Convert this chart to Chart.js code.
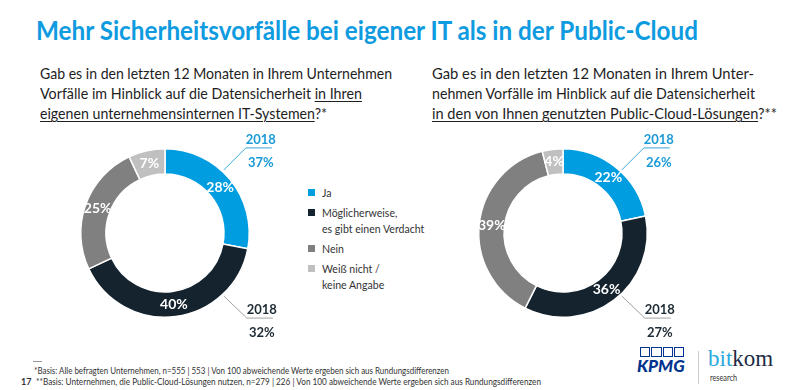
<!DOCTYPE html>
<html>
<head>
<meta charset="utf-8">
<script src="https://cdn.jsdelivr.net/npm/chart.js@4.4.0/dist/chart.umd.min.js"></script>
<style>
    body { margin: 0; width: 800px; height: 390px; background: #fff; font-family: Lato, 'Open Sans', sans-serif; color: #222; position: relative; overflow: hidden; }
    .abs { position: absolute; white-space: nowrap; }
    .fit { display: inline-block; transform-origin: left center; }
    #title { left: 36px; top: 17px; font-size: 26px; line-height: 26px; font-weight: bold; color: #0f9be0; }
    .sub { font-size: 15px; line-height: 20px; color: #1e1e1e; }
    .sub u { text-decoration-thickness: 1px; text-underline-offset: 2px; }
    .chartBox { position: absolute; width: 240px; height: 220px; top: 123px; }
    #legend { left: 308px; top: 185px; font-size: 12px; line-height: 16px; color: #333; }
    .item { position: relative; margin-bottom: 4px; padding-left: 14px; }
    .item .sw { position: absolute; left: 0; top: 4px; width: 7px; height: 7px; }
    .item .txt { display: inline-block; transform: scaleX(0.88); transform-origin: left center; }
    .foot { font-size: 9px; line-height: 11px; color: #333; }
</style>
</head>
<body>
    <div id="title" class="abs"><span class="fit" data-w="662">Mehr Sicherheitsvorfälle bei eigener IT als in der Public-Cloud</span></div>

    <div class="abs sub" style="left:40px; top:63px;">
        <span class="fit" data-w="352">Gab es in den letzten 12 Monaten in Ihrem Unternehmen</span><br>
        <span class="fit" data-w="322">Vorfälle im Hinblick auf die Datensicherheit <u>in Ihren</u></span><br>
        <span class="fit" data-w="287"><u>eigenen unternehmensinternen IT-Systemen</u>?*</span>
    </div>
    <div class="abs sub" style="left:432px; top:63px;">
        <span class="fit" data-w="322">Gab es in den letzten 12 Monaten in Ihrem Unter-</span><br>
        <span class="fit" data-w="323">nehmen Vorfälle im Hinblick auf die Datensicherheit</span><br>
        <span class="fit" data-w="345"><u>in den von Ihnen genutzten Public-Cloud-Lösungen</u>?**</span>
    </div>

    <div class="chartBox" style="left:45px;"><canvas id="chartIT"></canvas></div>
    <div class="chartBox" style="left:443px;"><canvas id="chartCloud"></canvas></div>

    <div id="legend" class="abs"></div>

    <div class="abs" style="left:33px; top:361px; width:9px; border-top:1px solid #999;"></div>
    <div class="abs foot" style="left:34px; top:365px;"><span class="fit" data-w="415">*Basis: Alle befragten Unternehmen, n=555 | 553 | Von 100 abweichende Werte ergeben sich aus Rundungsdifferenzen</span></div>
    <div class="abs foot" style="left:21px; top:376px; font-weight:bold;">17</div>
    <div class="abs foot" style="left:36px; top:376px;"><span class="fit" data-w="505">**Basis: Unternehmen, die Public-Cloud-Lösungen nutzen, n=279 | 226 | Von 100 abweichende Werte ergeben sich aus Rundungsdifferenzen</span></div>

    <!-- logos -->
    <div class="abs" style="left:640px; top:347px; width:44px; height:10px; display:flex; gap:1px;">
        <div style="flex:1; border:1px solid #00338d;"></div>
        <div style="flex:1; border:1px solid #00338d;"></div>
        <div style="flex:1; border:1px solid #00338d;"></div>
        <div style="flex:1; border:1px solid #00338d;"></div>
    </div>
    <div class="abs" style="left:637px; top:356px; font-size:17px; line-height:20px; font-weight:900; font-style:italic; color:#00338d;">KPMG</div>
    <div class="abs" style="left:698px; top:351px; height:33px; border-left:1px solid #ccc;"></div>
    <div class="abs" style="left:708px; top:347px; font-family:'Liberation Serif', serif; font-size:23px; line-height:24px;"><span style="color:#2aa8e0;">bit</span><span style="color:#1d2b45;">kom</span></div>
    <div class="abs" style="left:710px; top:371px; font-size:10px; line-height:12px; color:#333;"><span class="fit" data-w="27">research</span></div>

<script>
    const categories = [
        ['Ja'],
        ['Möglicherweise,', 'es gibt einen Verdacht'],
        ['Nein'],
        ['Weiß nicht /', 'keine Angabe']
    ];
    const internalIT = [28, 40, 25, 7];
    const publicCloud = [22, 36, 39, 4];
    // 2018 comparison values: Ja, Möglicherweise
    const internalIT2018 = [37, 32];
    const publicCloud2018 = [26, 27];
    const prevYear = '2018';

    const colors = ['#009de0', '#14232d', '#808080', '#c0c0c0'];

    // legend
    const legend = document.getElementById('legend');
    categories.forEach((lines, i) => {
        const item = document.createElement('div');
        item.className = 'item';
        item.innerHTML = '<span class="sw" style="background:' + colors[i] + '"></span>' +
            lines.map(l => '<span class="txt">' + l + '</span>').join('<br>');
        legend.appendChild(item);
    });

    // percentage inside each ring segment
    const segmentLabels = {
        id: 'segmentLabels',
        afterDatasetsDraw(chart) {
            const ctx = chart.ctx;
            const values = chart.data.datasets[0].data;
            ctx.save();
            ctx.fillStyle = '#fff';
            ctx.font = 'bold 14px Lato';
            ctx.textAlign = 'center';
            ctx.textBaseline = 'middle';
            chart.getDatasetMeta(0).data.forEach((arc, i) => {
                const p = arc.tooltipPosition();
                ctx.fillText(values[i] + '%', p.x, p.y);
            });
            ctx.restore();
        }
    };

    // 2018 callouts with leader lines
    const prevYearCallouts = {
        id: 'prevYearCallouts',
        afterDatasetsDraw(chart, args, opts) {
            const ctx = chart.ctx;
            const arc = chart.getDatasetMeta(0).data[0];
            const { x, y, outerRadius } = arc;
            ctx.save();
            opts.items.forEach(item => {
                const a = (item.angle - 90) * Math.PI / 180;
                const sx = x + Math.cos(a) * (outerRadius + 2);
                const sy = y + Math.sin(a) * (outerRadius + 2);
                const ex = sx + item.dx;
                const ey = sy + item.dy;
                ctx.strokeStyle = item.lineColor;
                ctx.lineWidth = 1;
                ctx.beginPath();
                ctx.moveTo(sx, sy);
                ctx.lineTo(ex, ey);
                ctx.lineTo(ex + 26, ey);
                ctx.stroke();

                ctx.fillStyle = item.color;
                ctx.font = 'bold 13px Lato';
                ctx.textAlign = 'center';
                ctx.textBaseline = 'alphabetic';
                ctx.fillText(prevYear, ex + 15, ey - 4);
                ctx.fillText(item.value + '%', ex + 15, ey + 19);
            });
            ctx.restore();
        }
    };

    function makeDonut(id, values, values2018) {
        const ctx = document.getElementById(id).getContext('2d');
        return new Chart(ctx, {
            type: 'doughnut',
            data: {
                labels: categories.map(c => c.join(' ')),
                datasets: [{
                    data: values,
                    backgroundColor: colors,
                    borderColor: '#fff',
                    borderWidth: 1.5
                }]
            },
            options: {
                responsive: true,
                maintainAspectRatio: false,
                animation: false,
                cutout: '70%',
                layout: { padding: { left: 35, right: 35, top: 25, bottom: 25 } },
                plugins: {
                    legend: { display: false },
                    tooltip: { enabled: false },
                    prevYearCallouts: {
                        items: [
                            { angle: 43, dx: 22, dy: -22, value: values2018[0], color: '#1a9ad6', lineColor: '#3aa6d8' },
                            { angle: 137, dx: 23, dy: 22, value: values2018[1], color: '#1c2a33', lineColor: '#a0a0a0' }
                        ]
                    }
                }
            },
            plugins: [segmentLabels, prevYearCallouts]
        });
    }

    makeDonut('chartIT', internalIT, internalIT2018);
    makeDonut('chartCloud', publicCloud, publicCloud2018);

    // squeeze text lines to the widths of the condensed original font
    document.querySelectorAll('.fit').forEach(el => {
        const w = el.getBoundingClientRect().width;
        const target = parseFloat(el.dataset.w);
        el.style.transform = 'scaleX(' + (target / w) + ')';
    });
</script>
</body>
</html>
